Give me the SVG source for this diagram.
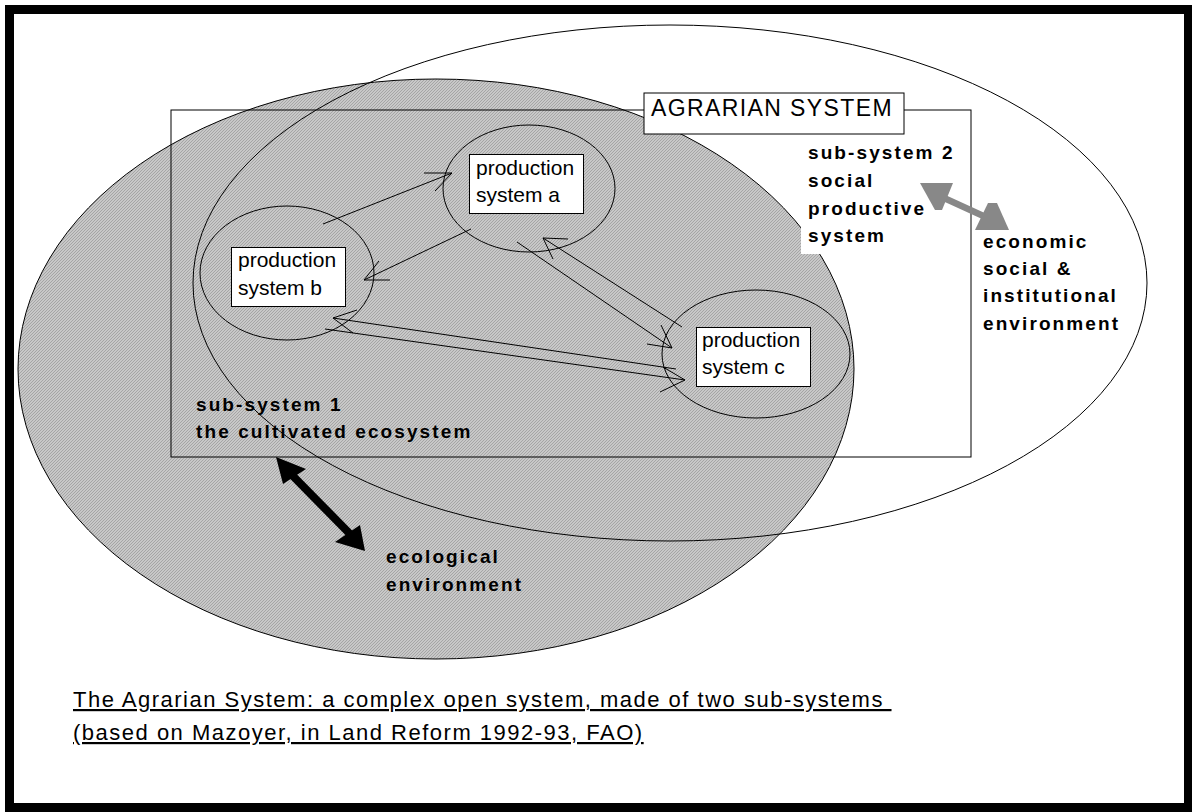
<svg xmlns="http://www.w3.org/2000/svg" width="1192" height="812" viewBox="0 0 1192 812">
<defs>
<pattern id="hatch" patternUnits="userSpaceOnUse" width="3" height="3">
<rect width="3" height="3" fill="#c8c8c8"/>
<path d="M0,3L3,0M-1,1L1,-1M2,4L4,2" stroke="#a2a2a2" stroke-width="0.9"/>
</pattern>
<style>
.ln{fill:none;stroke:#000;stroke-width:1}
.bx{fill:#fff;stroke:#000;stroke-width:1}
.ps{font-family:"Liberation Sans",Arial,sans-serif;font-size:21px;fill:#000}
.lb{font-family:"Liberation Sans",Arial,sans-serif;font-size:19px;font-weight:bold;letter-spacing:2.1px;fill:#000}
.cap{font-family:"Liberation Sans",Arial,sans-serif;font-size:22px;letter-spacing:1.5px;fill:#000;text-decoration:underline}
.ar{fill:none;stroke:#000;stroke-width:1}
</style>
</defs>
<rect width="1192" height="812" fill="#fff"/>
<path d="M5,5H1192V812H5Z M14,14V803H1184V14Z" fill="#000" fill-rule="evenodd"/>

<g id="ecological-ellipse">
<ellipse cx="436" cy="369" rx="418" ry="290" fill="url(#hatch)" stroke="#000" stroke-width="1"/>
</g>
<g id="social-ellipse">
<ellipse cx="670" cy="283" rx="477" ry="258" class="ln"/>
</g>
<g id="agrarian-system">
<rect x="171" y="110" width="800" height="347" class="ln"/>
<rect x="644" y="93" width="260" height="41" class="bx"/>
<text x="651" y="116" style="font-family:'Liberation Sans',Arial,sans-serif;font-size:23px;letter-spacing:1.4px">AGRARIAN SYSTEM</text>
</g>

<g id="ps-a">
<ellipse cx="529" cy="188.5" rx="86" ry="63.5" class="ln"/>
<rect x="469.5" y="154.5" width="114" height="59" class="bx"/>
<text class="ps" x="476" y="175">production</text>
<text class="ps" x="476" y="202">system a</text>
</g>
<g id="ps-b">
<ellipse cx="287" cy="273" rx="87" ry="67" class="ln"/>
<rect x="231.5" y="247.5" width="114" height="59" class="bx"/>
<text class="ps" x="238" y="267">production</text>
<text class="ps" x="238" y="295">system b</text>
</g>
<g id="ps-c">
<ellipse cx="756" cy="354" rx="94" ry="64" class="ln"/>
<rect x="696.5" y="327.5" width="114" height="59" class="bx"/>
<text class="ps" x="702" y="347">production</text>
<text class="ps" x="702" y="374">system c</text>
</g>

<g id="sub-system-1">
<text class="lb" x="196" y="411">sub-system 1</text>
<text class="lb" x="196" y="438">the cultivated ecosystem</text>
</g>
<g id="sub-system-2">
<rect x="801" y="138" width="160" height="116" fill="#fff"/>
<text class="lb" x="808" y="159">sub-system 2</text>
<text class="lb" x="808" y="187">social</text>
<text class="lb" x="808" y="215">productive</text>
<text class="lb" x="808" y="242">system</text>
</g>
<g id="external-environment">
<text class="lb" x="983" y="248">economic</text>
<text class="lb" x="983" y="275">social &amp;</text>
<text class="lb" x="983" y="302">institutional</text>
<text class="lb" x="983" y="330">environment</text>
</g>
<g id="ecological-environment">
<text class="lb" x="386" y="563">ecological</text>
<text class="lb" x="386" y="591">environment</text>
</g>

<g id="connectors">
<path class="ar" d="M323,224L452,173M424,173H452L435,191"/>
<path class="ar" d="M471,229L364,280M390,280H364L379,261"/>
<path class="ar" d="M676,369L333,318M357,310L333,318L353,333"/>
<path class="ar" d="M325,329L685,380M663,367L685,380L660,392"/>
<path class="ar" d="M682,327L543,238M568,239L543,238L553,259"/>
<path class="ar" d="M517,242L672,348M647,344L672,348L661,325"/>
<g id="grey-arrow" fill="#888">
<line x1="944" y1="198" x2="990" y2="219" stroke="#888" stroke-width="6.5"/>
<polygon points="920,183 953,183 942,210 935,210"/>
<polygon points="975,230 1009,230 997,203 988,203"/>
</g>
<g id="black-arrow" fill="#000">
<line x1="290" y1="473" x2="351" y2="535" stroke="#000" stroke-width="8"/>
<polygon points="276,457 306,469 283,484"/>
<polygon points="365,551 335,542 360,525"/>
</g>
</g>

<g id="caption">
<text class="cap" x="73" y="707" xml:space="preserve">The Agrarian System: a complex open system, made of two sub-systems </text>
<text class="cap" x="73" y="740">(based on Mazoyer, in Land Reform 1992-93, FAO)</text>
</g>
</svg>
